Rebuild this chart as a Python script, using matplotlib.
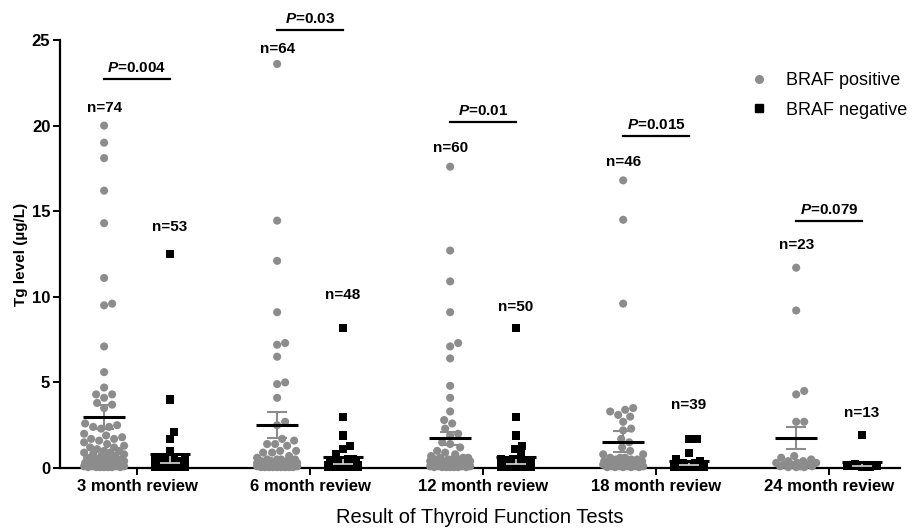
import numpy as np
import matplotlib
matplotlib.use('Agg')
import matplotlib.pyplot as plt
from matplotlib.lines import Line2D

plt.rcParams['font.family'] = ['Liberation Sans', 'DejaVu Sans']
plt.rcParams['mathtext.fontset'] = 'custom'
plt.rcParams['mathtext.it'] = 'Liberation Sans:italic:bold'
plt.rcParams['mathtext.rm'] = 'Liberation Sans:bold'

# ---- data ----
categories = ['3 month review', '6 month review', '12 month review',
              '18 month review', '24 month review']

pos_3 = [20.0, 19.0, 18.1, 16.2, 14.3, 11.1, 9.6, 9.5, 7.1, 5.6, 4.7, 4.3, 4.1, 4.3, 3.8,
         3.7, 3.5, 2.6, 2.5, 2.4, 2.4, 2.3, 2.0, 1.9, 1.8, 1.7, 1.7, 1.6, 1.5, 1.4,
         1.3, 1.2, 1.2, 1.1, 1.0, 1.0, 0.9, 0.9, 0.8, 0.8, 0.7, 0.7, 0.6, 0.6, 0.5,
         0.5, 0.5, 0.4, 0.4, 0.4, 0.3, 0.3, 0.3, 0.3, 0.2, 0.2, 0.2, 0.2, 0.2, 0.1,
         0.1, 0.1, 0.1, 0.1, 0.1, 0.1, 0.1, 0.05, 0.05, 0.05, 0.05, 0.05, 0.05, 0.05]
neg_3 = [12.5, 4.0, 2.1, 1.7, 1.0, 0.6, 0.6, 0.5, 0.5, 0.5, 0.4, 0.4, 0.4, 0.4,
         0.3, 0.3, 0.3, 0.3, 0.3, 0.3, 0.3, 0.3,
         0.2, 0.2, 0.2, 0.2, 0.2, 0.2, 0.2, 0.2, 0.2, 0.2,
         0.1, 0.1, 0.1, 0.1, 0.1, 0.1, 0.1, 0.1, 0.1, 0.1,
         0.05, 0.05, 0.05, 0.05, 0.05, 0.05, 0.05, 0.05, 0.05, 0.05, 0.05]

pos_6 = [23.6, 14.45, 12.1, 9.1, 7.3, 7.2, 6.5, 5.0, 4.9, 4.1, 2.7, 2.5, 1.7, 1.6, 1.4,
         1.4, 1.3, 1.0, 1.0, 0.9, 0.9, 0.7, 0.6,
         0.5, 0.5, 0.5, 0.5, 0.4, 0.4, 0.4, 0.4, 0.3, 0.3, 0.3, 0.3, 0.3, 0.3,
         0.2, 0.2, 0.2, 0.2, 0.2, 0.2, 0.2, 0.2,
         0.1, 0.1, 0.1, 0.1, 0.1, 0.1, 0.1, 0.1, 0.1, 0.1,
         0.05, 0.05, 0.05, 0.05, 0.05, 0.05, 0.05, 0.05, 0.05]
neg_6 = [8.2, 3.0, 1.9, 1.3, 1.1, 0.8, 0.5, 0.5, 0.4, 0.4,
         0.3, 0.3, 0.3, 0.3, 0.3, 0.2, 0.2, 0.2, 0.2, 0.2, 0.2, 0.2, 0.2,
         0.1, 0.1, 0.1, 0.1, 0.1, 0.1, 0.1, 0.1, 0.1, 0.1, 0.1, 0.1,
         0.05, 0.05, 0.05, 0.05, 0.05, 0.05, 0.05, 0.05, 0.05, 0.05, 0.05, 0.05, 0.05]

pos_12 = [17.6, 12.7, 10.9, 9.1, 7.3, 7.1, 6.4, 4.8, 4.1, 3.3, 2.8, 2.6, 2.3, 2.0, 1.9,
          1.5, 1.4, 1.2, 1.0, 0.9, 0.8, 0.7,
          0.6, 0.6, 0.6, 0.5, 0.5, 0.5, 0.5, 0.4, 0.4, 0.4, 0.4,
          0.3, 0.3, 0.3, 0.3, 0.3, 0.3, 0.2, 0.2, 0.2, 0.2, 0.2, 0.2, 0.2,
          0.1, 0.1, 0.1, 0.1, 0.1, 0.1, 0.1, 0.05, 0.05, 0.05, 0.05, 0.05, 0.05, 0.05]
neg_12 = [8.2, 3.0, 1.9, 1.3, 1.1, 0.8, 0.5, 0.5, 0.4, 0.4,
          0.3, 0.3, 0.3, 0.3, 0.3, 0.2, 0.2, 0.2, 0.2, 0.2, 0.2, 0.2, 0.2,
          0.1, 0.1, 0.1, 0.1, 0.1, 0.1, 0.1, 0.1, 0.1, 0.1, 0.1, 0.1,
          0.05, 0.05, 0.05, 0.05, 0.05, 0.05, 0.05, 0.05, 0.05, 0.05, 0.05, 0.05,
          0.05, 0.05, 0.05]

pos_18 = [16.8, 14.5, 9.6, 3.5, 3.4, 3.3, 3.1, 3.0, 2.7, 2.3, 2.2, 1.7, 1.5, 1.2, 1.0,
          0.8, 0.8, 0.6, 0.6, 0.6, 0.5, 0.5, 0.5, 0.4, 0.4, 0.4, 0.4,
          0.3, 0.3, 0.3, 0.3, 0.2, 0.2, 0.2, 0.2, 0.2,
          0.1, 0.1, 0.1, 0.1, 0.1, 0.05, 0.05, 0.05, 0.05, 0.05]
neg_18 = [1.7, 1.7, 0.9, 0.5, 0.4, 0.3, 0.3, 0.2, 0.2, 0.2, 0.2, 0.2, 0.2,
          0.1, 0.1, 0.1, 0.1, 0.1, 0.1, 0.1, 0.1, 0.1, 0.1, 0.1, 0.1,
          0.05, 0.05, 0.05, 0.05, 0.05, 0.05, 0.05, 0.05, 0.05, 0.05, 0.05, 0.05,
          0.05, 0.05]

pos_24 = [11.7, 9.2, 4.5, 4.3, 2.7, 2.7, 0.7, 0.6, 0.5, 0.4, 0.4, 0.3, 0.3, 0.3,
          0.2, 0.2, 0.2, 0.1, 0.1, 0.1, 0.05, 0.05, 0.05]
neg_24 = [1.95, 0.25, 0.2, 0.2, 0.2, 0.15, 0.15, 0.1, 0.1, 0.1, 0.1, 0.05, 0.05]

braf_pos = [pos_3, pos_6, pos_12, pos_18, pos_24]
braf_neg = [neg_3, neg_6, neg_12, neg_18, neg_24]

# mean +/- SEM as drawn
pos_mean = [3.0, 2.5, 1.73, 1.54, 1.77]
pos_sem = [0.7, 0.75, 0.4, 0.6, 0.65]
neg_mean = [0.55, 0.43, 0.43, 0.3, 0.25]
neg_sem = [0.25, 0.2, 0.2, 0.12, 0.12]

n_pos = [74, 64, 60, 46, 23]
n_neg = [53, 48, 50, 39, 13]
p_values = ['0.004', '0.03', '0.01', '0.015', '0.079']

# annotation heights (data units)
n_label_y_pos = [21.0, 24.45, 18.7, 17.9, 13.0]
n_label_y_neg = [14.1, 10.1, 9.4, 3.7, 3.2]
p_bar_y = [22.7, 25.6, 20.2, 19.4, 14.4]

GRAY = '#8c8c8c'
OFF = 0.19  # group offset from tick


def swarm_x(ax, xc, vals, diam, max_half):
    """beeswarm-style x positions, computed in pixel space"""
    pts = ax.transData.transform(np.column_stack([np.full(len(vals), xc), vals]))
    ys = pts[:, 1]
    order = np.argsort(ys)
    cands = [0.0]
    k = 1
    while k <= max_half:
        cands += [float(k), -float(k)]
        k += 1
    px, py = [], []
    offs = np.zeros(len(vals))
    for i in order:
        y = ys[i]
        best, best_d = 0.0, -1.0
        for c in cands:
            if px:
                d = np.min(np.hypot(np.array(px) - c, np.array(py) - y))
            else:
                d = np.inf
            if d >= diam:
                best = c
                break
            if d > best_d:
                best_d, best = d, c
        offs[i] = best
        px.append(best)
        py.append(y)
    x0 = ax.transData.transform((0, 0))[0]
    x1 = ax.transData.transform((1, 0))[0]
    return xc + offs / (x1 - x0)


fig = plt.figure(figsize=(9.13, 5.32), dpi=100)
ax = fig.add_axes([60 / 913, 64 / 532, 840 / 913, 428 / 532])
ax.set_xlim(-0.445, 4.41)
ax.set_ylim(0, 25)

for sp in ['top', 'right']:
    ax.spines[sp].set_visible(False)
for sp in ['left', 'bottom']:
    ax.spines[sp].set_linewidth(1.6)

ax.set_yticks([0, 5, 10, 15, 20, 25])
ax.set_xticks(range(len(categories)))
ax.set_xticklabels(categories, fontsize=12, fontweight='bold')
ax.tick_params(axis='both', length=5, width=1.4, pad=3)
ax.tick_params(axis='y', pad=2)
for lab in ax.get_yticklabels():
    lab.set_fontsize(12)
    lab.set_fontweight('bold')

ax.set_ylabel('Tg level (µg/L)', fontsize=11, fontweight='bold', labelpad=3)
ax.set_xlabel('Result of Thyroid Function Tests', fontsize=14.5, labelpad=10)

px_per_x = ax.transData.transform((1, 0))[0] - ax.transData.transform((0, 0))[0]

for i in range(len(categories)):
    xp, xn = i - OFF, i + OFF

    xs = swarm_x(ax, xp, braf_pos[i], 8.0, 20)
    ax.scatter(xs, braf_pos[i], s=34, marker='o', color=GRAY, edgecolors='none',
               zorder=3, clip_on=False)
    xs = swarm_x(ax, xn, braf_neg[i], 7.5, 15)
    ax.scatter(xs, braf_neg[i], s=34, marker='s', color='black', edgecolors='none',
               zorder=3, clip_on=False)

    # mean + SEM
    ax.errorbar(xp, pos_mean[i], yerr=pos_sem[i], color=GRAY, elinewidth=1.5,
                capsize=7, capthick=1.5, zorder=2)
    ax.hlines(pos_mean[i], xp - 21 / px_per_x, xp + 21 / px_per_x, color='black',
              linewidth=2.2, zorder=4)
    ax.errorbar(xn, neg_mean[i], yerr=neg_sem[i], color='#d8d8d8', elinewidth=1.2,
                capsize=7, capthick=1.2, zorder=4)
    ax.hlines(neg_mean[i] + neg_sem[i], xn - 20 / px_per_x, xn + 20 / px_per_x,
              color='black', linewidth=2.2, zorder=4)

    # n labels
    ax.text(xp, n_label_y_pos[i], f'n={n_pos[i]}', ha='center', va='center',
            fontsize=11, fontweight='bold')
    ax.text(xn, n_label_y_neg[i], f'n={n_neg[i]}', ha='center', va='center',
            fontsize=11, fontweight='bold')

    # p-value bar
    ax.plot([xp, xn], [p_bar_y[i], p_bar_y[i]], color='black', linewidth=1.6,
            clip_on=False)
    ax.annotate(f'$P$=' + p_values[i], xy=(i, p_bar_y[i]), xytext=(0, 3),
                textcoords='offset points', ha='center', va='bottom',
                fontsize=11, fontweight='bold', annotation_clip=False)

handles = [
    Line2D([], [], marker='o', linestyle='none', color=GRAY, markersize=5.5),
    Line2D([], [], marker='s', linestyle='none', color='black', markersize=5.5),
]
ax.legend(handles, ['BRAF positive', 'BRAF negative'], loc='upper left',
          bbox_to_anchor=(750 / 913, 1 - 72 / 532), bbox_transform=fig.transFigure,
          frameon=False, fontsize=13, handlelength=1.0, handletextpad=1.0,
          labelspacing=0.7, borderpad=0, borderaxespad=0)

fig.savefig('out.png', dpi=100)
